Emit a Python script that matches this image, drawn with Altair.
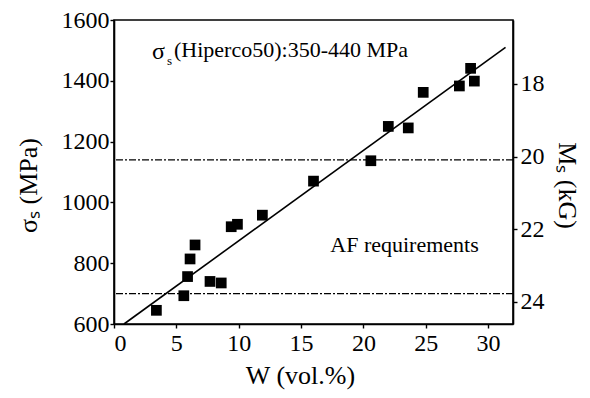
import altair as alt
import pandas as pd

# W (vol.%) and yield strength sigma_s (MPa)
w_vals = [3.4, 5.6, 5.9, 6.1, 6.5, 7.7, 8.6, 9.4, 9.9, 11.9, 16.0, 20.6, 22.0, 23.6, 24.8, 27.7, 28.6, 28.9]
sigma_vals = [645, 693, 756, 814, 860, 740, 735, 920, 928, 958, 1070, 1137, 1250, 1245, 1362, 1383, 1441, 1399]
# linear fit end points
fit_w = [0.8, 31.4]
fit_sigma = [600, 1510]
# AF requirement levels (MPa)
req_sigma = [1140, 700]
# axes
x_ticks = [0, 5, 10, 15, 20, 25, 30]
y_ticks = [600, 800, 1000, 1200, 1400, 1600]
ms_ticks = [18, 20, 22, 24]
ms_domain = [16.24, 24.61]

FONT = "Liberation Serif"

pts = pd.DataFrame({"W": w_vals, "sigma": sigma_vals})
fit = pd.DataFrame({"W": fit_w, "sigma": fit_sigma})
req = pd.DataFrame({"sigma": req_sigma})
ms = pd.DataFrame({"Ms": ms_ticks})

xs = alt.Scale(domain=[0, 32], nice=False, zero=False)
ys = alt.Scale(domain=[600, 1600], nice=False, zero=False)

common = dict(labelFont=FONT, titleFont=FONT, labelFontSize=24, titleFontSize=26,
              labelColor="black", titleColor="black", titleFontWeight="normal",
              tickSize=4, titleBaseline="middle")

x_enc = alt.X("W:Q", scale=xs, axis=alt.Axis(
    values=x_ticks, format="d", title="W (vol.%)", titleX=186, titleY=51,
    labelPadding=3, **common))
y_enc = alt.Y("sigma:Q", scale=ys, axis=alt.Axis(
    values=y_ticks, format="d", title="σₛ (MPa)", titleX=-86, titleY=165,
    titleAngle=-90, labelPadding=1, **common))

points = alt.Chart(pts).mark_point(shape="square", filled=True, size=115,
                                   color="black", opacity=1).encode(x=x_enc, y=y_enc)
line = alt.Chart(fit).mark_line(color="black", strokeWidth=1.6).encode(x="W:Q", y="sigma:Q")
rules = alt.Chart(req).mark_rule(color="black", strokeWidth=1.2,
                                 strokeDash=[7, 2, 2, 2]).encode(y="sigma:Q")

ann_pos = pd.DataFrame({"W": [3.05], "sigma": [1501]})
t1 = alt.Chart(ann_pos).mark_text(text="σ", font=FONT, fontSize=24, align="left",
                                  baseline="middle", dy=2, color="black").encode(x="W:Q", y="sigma:Q")
t2 = alt.Chart(ann_pos).mark_text(text="s", font=FONT, fontSize=13, align="left",
                                  baseline="middle", dx=15, dy=11, color="black").encode(x="W:Q", y="sigma:Q")
t3 = alt.Chart(ann_pos).mark_text(text="(Hiperco50):350-440 MPa", font=FONT, fontSize=22,
                                  align="left", baseline="middle", dx=22, color="black").encode(x="W:Q", y="sigma:Q")
af_pos = pd.DataFrame({"W": [23.3], "sigma": [860]})
t4 = alt.Chart(af_pos).mark_text(text="AF requirements", font=FONT, fontSize=22,
                                 align="center", baseline="middle", color="black").encode(x="W:Q", y="sigma:Q")

left = alt.layer(points, line, rules, t1, t2, t3, t4)

right = alt.Chart(ms).mark_point(opacity=0).encode(
    y=alt.Y("Ms:Q", scale=alt.Scale(domain=ms_domain, reverse=True, nice=False, zero=False),
            axis=alt.Axis(orient="right", values=ms_ticks, format="d", title="Mₛ (kG)",
                          titleX=53, titleY=165, titleAngle=90,
                          labelPadding=3, **common)))

chart = alt.layer(left, right).resolve_scale(y="independent").properties(
    width=399, height=304, autosize="none", background="white",
    padding={"left": 106, "top": 12, "right": 69, "bottom": 66},
).configure(font=FONT).configure_axis(
    domainColor="black", domainWidth=1.6, tickColor="black", tickWidth=1.4, grid=False,
).configure_view(stroke="black", strokeWidth=1.6)

chart.save("out.html", embed_options={"renderer": "svg", "actions": False})
